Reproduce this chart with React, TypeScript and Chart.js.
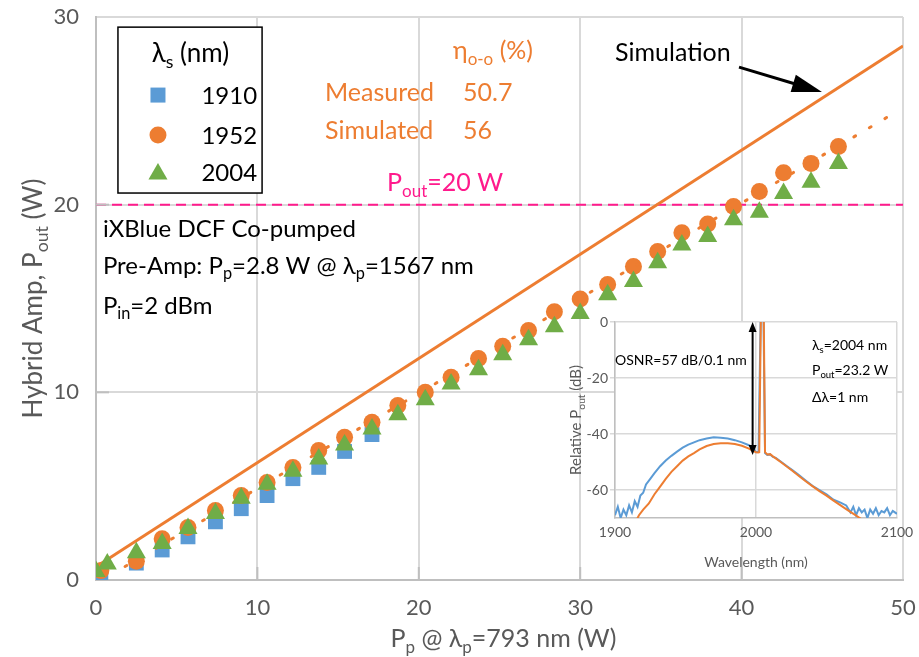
import React, { useEffect, useRef } from 'react';
import { Chart, registerables } from 'chart.js';

Chart.register(...registerables);

const FONT = 'Lato, "Open Sans", "DejaVu Sans", sans-serif';
const GRAY = '#595959';
const GRID = '#D9D9D9';
const AXIS = '#BFBFBF';
const BLUE = '#5B9BD5';
const ORANGE = '#ED7D31';
const GREEN = '#70AD47';
const PINK = '#FF1A8C';

// ---------- main chart data: pump power (W) vs output power (W) ----------
const pump1910 = [0.3, 2.5, 4.1, 5.7, 7.4, 9.0, 10.6, 12.2, 13.8, 15.4, 17.1];
const pout1910 = [0.27, 0.9, 1.6, 2.3, 3.1, 3.8, 4.5, 5.4, 6.0, 6.85, 7.75];

const pump1952 = [0.3, 2.5, 4.1, 5.7, 7.4, 9.0, 10.6, 12.2, 13.8, 15.4, 17.1, 18.7, 20.4, 22.0, 23.7, 25.2, 26.8, 28.4, 30.0, 31.7, 33.3, 34.8, 36.3, 37.9, 39.5, 41.1, 42.6, 44.3, 46.0];
const pout1952 = [0.5, 1.0, 2.2, 2.8, 3.7, 4.5, 5.2, 6.0, 6.9, 7.6, 8.4, 9.3, 10.0, 10.8, 11.8, 12.45, 13.3, 14.3, 14.97, 15.75, 16.7, 17.5, 18.5, 18.97, 19.9, 20.7, 21.7, 22.2, 23.1];

const pump2004 = [0.0, 0.7, 2.5, 4.1, 5.7, 7.4, 9.0, 10.6, 12.2, 13.8, 15.4, 17.1, 18.7, 20.4, 22.0, 23.7, 25.2, 26.8, 28.4, 30.0, 31.7, 33.3, 34.8, 36.3, 37.9, 39.5, 41.1, 42.6, 44.3, 46.0];
const pout2004 = [0.45, 0.85, 1.45, 1.95, 2.75, 3.55, 4.35, 5.1, 5.8, 6.45, 7.2, 8.05, 8.8, 9.6, 10.45, 11.2, 12.0, 12.8, 13.5, 14.2, 15.2, 15.9, 16.9, 17.85, 18.3, 19.2, 19.6, 20.6, 21.2, 22.2];

const simPump = [0, 50];
const simPout = [0.7, 28.45];
const fitPump = [1.8, 49.1];
const fitPout = [0.72, 24.7];
const targetPump = [0, 50];
const targetPout = [20, 20];

const legendLabels = ['1910', '1952', '2004'];
const etaNames = ['Measured', 'Simulated'];
const etaValues = ['50.7', '56'];

// ---------- inset data: wavelength (nm) vs relative power (dB) ----------
const specBlueNm = [1900, 1902, 1904, 1906, 1908, 1910, 1912, 1914, 1916, 1918, 1920, 1922, 1925, 1928, 1932, 1936, 1940, 1944, 1948, 1952, 1956, 1960, 1965, 1970, 1975, 1980, 1985, 1990, 1995, 1998, 2000, 2001.8, 2003.3, 2005.3, 2006.4, 2008, 2010, 2012, 2014, 2018, 2022, 2026, 2030, 2035, 2040, 2045, 2050, 2055, 2060, 2064, 2067, 2069, 2071, 2073, 2075, 2077, 2079, 2081, 2083, 2085, 2087, 2089, 2091, 2093, 2095, 2097, 2100];
const specBlueDb = [-69, -66, -70, -67, -69, -65.5, -68, -64, -66, -62, -61, -58, -56, -54, -51.5, -49.5, -47.8, -46.3, -44.9, -43.8, -43.0, -42.2, -41.6, -41.2, -41.3, -41.6, -42.2, -43.0, -44.0, -45.0, -46.5, -46.3, 2, 2, -46.8, -47.5, -47.3, -48.2, -48.5, -50.0, -51.5, -53, -54.5, -56.5, -58.5, -60, -61.5, -63.5, -64.5, -65.5, -68, -66, -69, -66.5, -68, -67, -70, -67, -68.5, -66.5, -69, -67.5, -68, -66.5, -69, -67.5, -68.5];

const specOrangeNm = [1914, 1917, 1920, 1924, 1928, 1932, 1936, 1940, 1944, 1948, 1952, 1956, 1960, 1965, 1970, 1975, 1980, 1985, 1990, 1995, 1998, 2000, 2001.5, 2002.3, 2003.5, 2005.5, 2006.4, 2008, 2010, 2012, 2014, 2018, 2022, 2026, 2030, 2035, 2040, 2045, 2050, 2055, 2060, 2065, 2070, 2075, 2078];
const specOrangeDb = [-72, -69, -67, -64.8, -61.5, -58.8, -56, -53.5, -51.5, -49.5, -48, -46.8, -45.5, -44.3, -43.6, -43.3, -43.3, -43.6, -44.2, -45.2, -46, -46.5, -46.6, -46.5, 3, 3, -46.5, -47.3, -47.2, -48, -48.7, -50.2, -51.7, -53.2, -54.8, -56.8, -58.6, -60.4, -62, -63.8, -65.5, -67.2, -68.8, -70.5, -72];

const zip = (xs: number[], ys: number[]) => xs.map((x, i) => ({ x, y: ys[i] }));

function parseRich(s: string) {
  const out: { t: string; sub: boolean }[] = [];
  const re = /_\{([^}]*)\}/g;
  let last = 0;
  let m: RegExpExecArray | null;
  while ((m = re.exec(s))) {
    if (m.index > last) out.push({ t: s.slice(last, m.index), sub: false });
    out.push({ t: m[1], sub: true });
    last = re.lastIndex;
  }
  if (last < s.length) out.push({ t: s.slice(last), sub: false });
  return out;
}

function drawRich(ctx: CanvasRenderingContext2D, s: string, x: number, yc: number, size: number, color: string, align: 'left' | 'center' | 'right' = 'left') {
  const segs = parseRich(s);
  const subSize = size * 0.68;
  let w = 0;
  for (const g of segs) {
    ctx.font = `${g.sub ? subSize : size}px ${FONT}`;
    w += ctx.measureText(g.t).width;
  }
  let cx = align === 'left' ? x : align === 'center' ? x - w / 2 : x - w;
  const base = yc + size * 0.36;
  ctx.fillStyle = color;
  ctx.textAlign = 'left';
  ctx.textBaseline = 'alphabetic';
  for (const g of segs) {
    ctx.font = `${g.sub ? subSize : size}px ${FONT}`;
    ctx.fillText(g.t, cx, g.sub ? base + size * 0.22 : base);
    cx += ctx.measureText(g.t).width;
  }
}

function arrowHead(ctx: CanvasRenderingContext2D, x1: number, y1: number, x2: number, y2: number, len: number, half: number) {
  const a = Math.atan2(y2 - y1, x2 - x1);
  ctx.beginPath();
  ctx.moveTo(x2, y2);
  ctx.lineTo(x2 - len * Math.cos(a) + half * Math.sin(a), y2 - len * Math.sin(a) - half * Math.cos(a));
  ctx.lineTo(x2 - len * Math.cos(a) - half * Math.sin(a), y2 - len * Math.sin(a) + half * Math.cos(a));
  ctx.closePath();
  ctx.fill();
}

const mainAnnotations = {
  id: 'mainAnnotations',
  afterDraw(chart: any) {
    const ctx: CanvasRenderingContext2D = chart.ctx;
    const xs = chart.scales.x;
    const ys = chart.scales.y;
    const X = (v: number) => xs.getPixelForValue(v);
    const Y = (v: number) => ys.getPixelForValue(v);
    const area = chart.chartArea;
    ctx.save();
    // inner tick marks
    ctx.strokeStyle = AXIS;
    ctx.lineWidth = 2;
    for (const v of [10, 20, 30, 40]) {
      ctx.beginPath();
      ctx.moveTo(X(v), area.bottom);
      ctx.lineTo(X(v), area.bottom - 13);
      ctx.stroke();
    }
    for (const v of [10, 20]) {
      ctx.beginPath();
      ctx.moveTo(area.left, Y(v));
      ctx.lineTo(area.left + 13, Y(v));
      ctx.stroke();
    }

    // legend box
    const bx1 = X(1.36), bx2 = X(10.29), by1 = Y(29.46), by2 = Y(20.62);
    ctx.fillStyle = '#FFFFFF';
    ctx.fillRect(bx1, by1, bx2 - bx1, by2 - by1);
    ctx.strokeStyle = '#000000';
    ctx.lineWidth = 1.5;
    ctx.strokeRect(bx1, by1, bx2 - bx1, by2 - by1);
    drawRich(ctx, 'λ_{s} (nm)', X(5.85), Y(28.08), 26, '#000', 'center');
    const rowY = [25.84, 23.71, 21.74];
    const mx = X(3.84);
    ctx.fillStyle = BLUE;
    ctx.fillRect(mx - 7.5, Y(rowY[0]) - 7.5, 15, 15);
    ctx.fillStyle = ORANGE;
    ctx.beginPath();
    ctx.arc(mx, Y(rowY[1]), 8.5, 0, Math.PI * 2);
    ctx.fill();
    ctx.fillStyle = GREEN;
    const ty = Y(rowY[2]) + 2;
    const r = 11;
    ctx.beginPath();
    ctx.moveTo(mx, ty - r);
    ctx.lineTo(mx + r * Math.sin(Math.PI * 2 / 3), ty - r * Math.cos(Math.PI * 2 / 3));
    ctx.lineTo(mx + r * Math.sin(Math.PI * 4 / 3), ty - r * Math.cos(Math.PI * 4 / 3));
    ctx.closePath();
    ctx.fill();
    legendLabels.forEach((l, i) => drawRich(ctx, l, X(9.98), Y(rowY[i]), 24, '#000', 'right'));

    // efficiency block
    drawRich(ctx, 'η_{o-o} (%)', X(24.6), Y(28.24), 25, ORANGE, 'center');
    const etaY = [26.0, 23.97];
    etaNames.forEach((n, i) => {
      drawRich(ctx, n, X(14.19), Y(etaY[i]), 25, ORANGE, 'left');
      drawRich(ctx, etaValues[i], X(22.74), Y(etaY[i]), 25, ORANGE, 'left');
    });

    // target label
    drawRich(ctx, 'P_{out}=20 W', X(18.03), Y(21.2), 25, PINK, 'left');

    // simulation label + arrow
    drawRich(ctx, 'Simulation', X(32.16), Y(28.13), 25, '#000', 'left');
    ctx.strokeStyle = '#000';
    ctx.fillStyle = '#000';
    ctx.lineWidth = 3;
    const ax1 = X(39.84), ay1 = Y(27.33), ax2 = X(44.98), ay2 = Y(26.0);
    const ang = Math.atan2(ay2 - ay1, ax2 - ax1);
    ctx.beginPath();
    ctx.moveTo(ax1, ay1);
    ctx.lineTo(ax2 - 20 * Math.cos(ang), ay2 - 20 * Math.sin(ang));
    ctx.stroke();
    arrowHead(ctx, ax1, ay1, ax2, ay2, 30, 9);

    // conditions text
    drawRich(ctx, 'iXBlue DCF Co-pumped', X(0.43), Y(18.75), 24, '#000', 'left');
    drawRich(ctx, 'Pre-Amp: P_{p}=2.8 W @ λ_{p}=1567 nm', X(0.43), Y(16.78), 24, '#000', 'left');
    drawRich(ctx, 'P_{in}=2 dBm', X(0.43), Y(14.65), 24, '#000', 'left');

    // axis titles
    drawRich(ctx, 'P_{p} @ λ_{p}=793 nm (W)', (area.left + area.right) / 2 + 4, 638, 25, GRAY, 'center');
    ctx.save();
    ctx.translate(33, (area.top + area.bottom) / 2);
    ctx.rotate(-Math.PI / 2);
    drawRich(ctx, 'Hybrid Amp, P_{out} (W)', 0, 0, 26, GRAY, 'center');
    ctx.restore();
    ctx.restore();
  },
};

const insetAnnotations = {
  id: 'insetAnnotations',
  beforeDraw(chart: any) {
    const a = chart.chartArea;
    const ctx: CanvasRenderingContext2D = chart.ctx;
    ctx.save();
    ctx.fillStyle = '#FFFFFF';
    ctx.fillRect(a.left, a.top, a.right - a.left, a.bottom - a.top);
    ctx.restore();
  },
  afterDraw(chart: any) {
    const ctx: CanvasRenderingContext2D = chart.ctx;
    const xs = chart.scales.x;
    const ys = chart.scales.y;
    const X = (v: number) => xs.getPixelForValue(v);
    const Y = (v: number) => ys.getPixelForValue(v);
    const a = chart.chartArea;
    ctx.save();
    ctx.strokeStyle = '#000';
    ctx.fillStyle = '#000';
    ctx.lineWidth = 2;
    const ax = X(1997.6), top = Y(0), bot = Y(-47.5);
    ctx.beginPath();
    ctx.moveTo(ax, top + 6);
    ctx.lineTo(ax, bot - 6);
    ctx.stroke();
    arrowHead(ctx, ax, bot, ax, top, 10, 4);
    arrowHead(ctx, ax, top, ax, bot, 10, 4);

    drawRich(ctx, 'OSNR=57 dB/0.1 nm', X(1900), Y(-13.6), 14, '#000', 'left');
    drawRich(ctx, 'λ_{s}=2004 nm', X(2039.7), Y(-8.2), 14, '#000', 'left');
    drawRich(ctx, 'P_{out}=23.2 W', X(2039.7), Y(-17.1), 14, '#000', 'left');
    drawRich(ctx, 'Δλ=1 nm', X(2039.7), Y(-26.8), 14, '#000', 'left');

    drawRich(ctx, 'Wavelength (nm)', (a.left + a.right) / 2, 562, 14, GRAY, 'center');
    ctx.translate(576, (a.top + a.bottom) / 2);
    ctx.rotate(-Math.PI / 2);
    drawRich(ctx, 'Relative P_{out} (dB)', 0, 0, 15, GRAY, 'center');
    ctx.restore();
  },
};

function makeMain(canvas: HTMLCanvasElement) {
  return new Chart(canvas, {
    type: 'scatter',
    data: {
      datasets: [
        {
          label: '2004', data: zip(pump2004, pout2004), pointStyle: 'triangle', pointRadius: 11,
          pointBackgroundColor: GREEN, pointBorderColor: GREEN, pointBorderWidth: 0, backgroundColor: GREEN, order: 0,
        } as any,
        {
          label: 'fit', data: zip(fitPump, fitPout), showLine: true, pointRadius: 0, borderColor: ORANGE,
          borderWidth: 3, borderDash: [2, 16], borderCapStyle: 'round', order: 1,
        } as any,
        {
          label: '1952', data: zip(pump1952, pout1952), pointStyle: 'circle', pointRadius: 8.5,
          pointBackgroundColor: ORANGE, pointBorderColor: ORANGE, pointBorderWidth: 0, backgroundColor: ORANGE, order: 2,
        } as any,
        {
          label: '1910', data: zip(pump1910, pout1910), pointStyle: 'rect', pointRadius: 10.5,
          pointBackgroundColor: BLUE, pointBorderColor: BLUE, pointBorderWidth: 0, backgroundColor: BLUE, order: 3,
        } as any,
        {
          label: 'Simulation', data: zip(simPump, simPout), showLine: true, pointRadius: 0, borderColor: ORANGE,
          borderWidth: 3, order: 4,
        } as any,
        {
          label: 'target', data: zip(targetPump, targetPout), showLine: true, pointRadius: 0, borderColor: PINK,
          borderWidth: 2, borderDash: [10, 6], order: 5,
        } as any,
      ],
    },
    options: {
      responsive: false,
      animation: false,
      layout: { autoPadding: false, padding: { left: 0, top: 17, right: 16, bottom: 0 } },
      plugins: { legend: { display: false }, tooltip: { enabled: false } },
      scales: {
        x: {
          type: 'linear', min: 0, max: 50,
          ticks: { stepSize: 10, color: GRAY, font: { family: FONT, size: 22 }, padding: 0 },
          grid: { color: GRID, lineWidth: 2, drawTicks: true, tickLength: 15, tickColor: 'rgba(0,0,0,0)' },
          border: { color: AXIS, width: 2 },
          afterFit: (s: any) => { s.height = 77; },
        },
        y: {
          type: 'linear', min: 0, max: 30,
          ticks: { stepSize: 10, color: GRAY, font: { family: FONT, size: 22 }, padding: 0 },
          grid: { color: GRID, lineWidth: 2, drawTicks: true, tickLength: 17, tickColor: 'rgba(0,0,0,0)' },
          border: { color: AXIS, width: 2 },
          afterFit: (s: any) => { s.width = 96; },
        },
      },
    } as any,
    plugins: [mainAnnotations],
  });
}

function makeInset(canvas: HTMLCanvasElement) {
  return new Chart(canvas, {
    type: 'scatter',
    data: {
      datasets: [
        {
          label: 'orange', data: zip(specOrangeNm, specOrangeDb), showLine: true, pointRadius: 0,
          borderColor: ORANGE, borderWidth: 2, order: 0,
        } as any,
        {
          label: 'blue', data: zip(specBlueNm, specBlueDb), showLine: true, pointRadius: 0,
          borderColor: BLUE, borderWidth: 2, order: 1,
        } as any,
      ],
    },
    options: {
      responsive: false,
      animation: false,
      layout: { autoPadding: false, padding: { left: 540, top: 322, right: 22, bottom: 100 } },
      plugins: { legend: { display: false }, tooltip: { enabled: false } },
      scales: {
        x: {
          type: 'linear', min: 1900, max: 2100,
          ticks: { stepSize: 100, color: GRAY, font: { family: FONT, size: 14 }, padding: 0, callback: (v: any) => String(v) },
          grid: { color: GRID, lineWidth: 1.5, drawTicks: true, tickLength: 6, tickColor: 'rgba(0,0,0,0)' },
          border: { color: AXIS, width: 1.5 },
          afterFit: (s: any) => { s.height = 39; },
        },
        y: {
          type: 'linear', min: -70, max: 0,
          ticks: { stepSize: 20, color: GRAY, font: { family: FONT, size: 14 }, padding: 2, callback: (v: any) => String(v) },
          grid: { color: GRID, lineWidth: 1.5, drawTicks: true, tickLength: 5 },
          border: { color: AXIS, width: 1.5 },
          afterBuildTicks: (s: any) => { s.ticks = s.ticks.filter((t: any) => t.value % 20 === 0); },
          afterFit: (s: any) => { s.width = 75; },
        },
      },
    } as any,
    plugins: [insetAnnotations],
  });
}

export default function App() {
  const mainRef = useRef<HTMLCanvasElement>(null);
  const insetRef = useRef<HTMLCanvasElement>(null);
  useEffect(() => {
    document.body.style.margin = '0';
    const m = makeMain(mainRef.current!);
    const i = makeInset(insetRef.current!);
    return () => {
      m.destroy();
      i.destroy();
    };
  }, []);
  return (
    <div style={{ position: 'relative', width: 919, height: 657, background: '#fff' }}>
      <canvas ref={mainRef} width={919} height={657} style={{ position: 'absolute', left: 0, top: 0 }} />
      <canvas ref={insetRef} width={919} height={657} style={{ position: 'absolute', left: 0, top: 0 }} />
    </div>
  );
}
